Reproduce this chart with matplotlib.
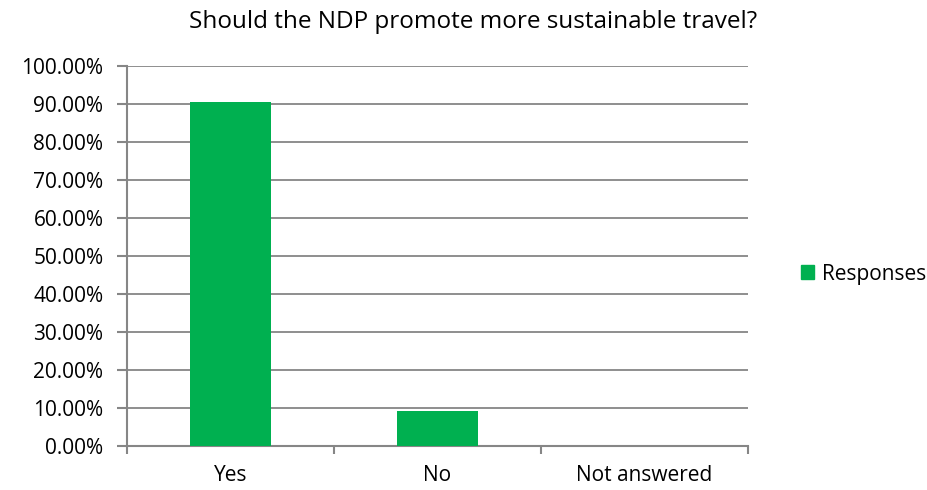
import numpy as np
import matplotlib.pyplot as plt
from matplotlib.ticker import FuncFormatter
from matplotlib.patches import Patch

# 데이터
categories = ['Yes', 'No', 'Not answered']
responses = [90.5, 9.2, 0.0]
y_ticks = np.arange(0, 101, 10)

green = '#00B050'
grid_c = '#868686'

plt.rcParams['font.family'] = ['Open Sans', 'DejaVu Sans']

fig = plt.figure(figsize=(9.27, 4.9), dpi=100)
ax = fig.add_axes([127/927, 44/490, 621/927, 380/490])

x = np.arange(len(categories))
ax.bar(x, responses, width=0.39, color=green, zorder=3)

ax.set_xlim(-0.5, len(categories) - 0.5)
ax.set_ylim(0, 100)
ax.set_yticks(y_ticks)
ax.yaxis.set_major_formatter(FuncFormatter(lambda v, p: f'{v:.2f}%'))

# x축 눈금은 카테고리 경계에
ax.set_xticks(np.arange(-0.5, len(categories)), minor=False)
ax.set_xticklabels([])
ax.set_xticks(x, minor=True)
ax.set_xticklabels(categories, minor=True)
ax.tick_params(axis='x', which='major', length=6, width=1.5, color=grid_c)
ax.tick_params(axis='x', which='minor', length=0, pad=14, labelsize=15)
ax.tick_params(axis='y', length=7, width=1.5, color=grid_c, labelsize=15, pad=10)

ax.grid(True, axis='y', color=grid_c, lw=1.3, zorder=0)
for s in ['top', 'right']:
    ax.spines[s].set_visible(False)
for s in ['left', 'bottom']:
    ax.spines[s].set_color(grid_c)
    ax.spines[s].set_linewidth(1.5)

fig.text(473/927, 1 - 22/490, 'Should the NDP promote more sustainable travel?',
         ha='center', va='center', fontsize=17.5)

fig.legend(handles=[Patch(color=green, label='Responses')],
           loc='center left', bbox_to_anchor=(782/927, 1 - 274/490),
           frameon=False, fontsize=15, handlelength=0.65, handleheight=0.65,
           handletextpad=0.35)

fig.savefig('out.png', dpi=100)
